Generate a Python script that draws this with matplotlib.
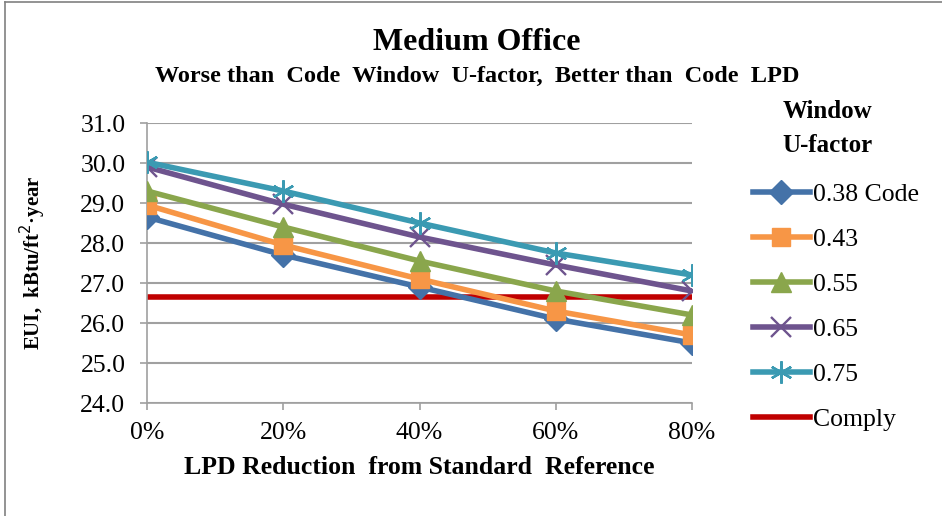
import matplotlib
matplotlib.use("Agg")
import matplotlib.pyplot as plt
from matplotlib.lines import Line2D

plt.rcParams['font.family'] = ['Liberation Serif', 'DejaVu Serif']

categories = ["0%", "20%", "40%", "60%", "80%"]
x_vals = [0, 20, 40, 60, 80]
series_names = ["0.38 Code", "0.43", "0.55", "0.65", "0.75"]
u038 = [28.65, 27.7, 26.9, 26.1, 25.5]
u043 = [28.95, 27.95, 27.1, 26.3, 25.7]
u055 = [29.3, 28.4, 27.55, 26.8, 26.2]
u065 = [29.9, 28.97, 28.15, 27.45, 26.8]
u075 = [30.02, 29.3, 28.5, 27.75, 27.2]
comply = [26.65, 26.65, 26.65, 26.65, 26.65]
y_ticks = [24.0, 25.0, 26.0, 27.0, 28.0, 29.0, 30.0, 31.0]

colors = ["#4472A8", "#F79646", "#8AA64C", "#6E548E", "#3B9AB2"]
markers = ["D", "s", "^", "x", (6, 2, 0)]
msizes = [12, 13, 14, 14, 16]

fig = plt.figure(figsize=(9.42, 5.16), dpi=100)
ax = fig.add_axes([147/942, 1-403/516, (692-147)/942, (403-123)/516])

all_series = [u038, u043, u055, u065, u075]
handles = []
for vals, name, c, m, ms in zip(all_series, series_names, colors, markers, msizes):
    if m in ("x",) or isinstance(m, tuple):
        ln, = ax.plot(x_vals, vals, color=c, lw=4, marker=m, ms=ms,
                      mew=1.7, mec=c, label=name, zorder=3)
    else:
        ln, = ax.plot(x_vals, vals, color=c, lw=4, marker=m, ms=ms,
                      mec=c, mfc=c, label=name, zorder=3)
    handles.append(ln)
cl, = ax.plot(x_vals, comply, color="#C00000", lw=4, label="Comply", zorder=2)
handles.append(cl)

ax.set_xlim(0, 80)
ax.set_ylim(24, 31)
ax.set_yticks(y_ticks)
ax.set_yticklabels([f"{v:.1f}" for v in y_ticks])
ax.set_xticks(x_vals)
ax.set_xticklabels(categories)
ax.grid(axis="y", color="#A0A0A0", lw=1.5)
ax.grid(axis="x", visible=False)
ax.set_axisbelow(True)
for s in ["top", "right"]:
    ax.spines[s].set_visible(False)
for s in ["left", "bottom"]:
    ax.spines[s].set_color("#A0A0A0")
    ax.spines[s].set_linewidth(1.2)
ax.tick_params(axis="both", colors="#A0A0A0", labelcolor="black", labelsize=18.5,
               length=5, width=1.2, direction="out")
ax.tick_params(axis="x", pad=9)
ax.tick_params(axis="y", pad=10.5)

ax.set_xlabel("LPD Reduction  from Standard  Reference", fontsize=18.5,
              fontweight="bold")
ax.xaxis.set_label_coords(0.5, -(456-403)/280)
ax.set_ylabel("EUI,  kBtu/ft$^2$·year", fontsize=15, fontweight="bold")
ax.yaxis.set_label_coords(-(147-48)/545, 0.5)

fig.text(477/942, 1-43/516, "Medium Office", ha="center", va="center",
         fontsize=23, fontweight="bold")
fig.text(477/942, 1-76/516, "Worse than  Code  Window  U-factor,  Better than  Code  LPD",
         ha="center", va="center", fontsize=17.5, fontweight="bold")

fig.text(827/942, 1-112/516, "Window", ha="center", va="center",
         fontsize=18, fontweight="bold")
fig.text(827/942, 1-145/516, "U-factor", ha="center", va="center",
         fontsize=18, fontweight="bold")

leg = fig.legend(handles=handles, loc="upper left",
                 bbox_to_anchor=(753/942, 1-183/516), frameon=False,
                 fontsize=18.5, handlelength=2.2,
                 handletextpad=0.15, labelspacing=0.86, borderaxespad=0,
                 borderpad=0)

# outer border (top and left visible)
fig.add_artist(Line2D([5/942, 5/942], [0, 1-2/516], transform=fig.transFigure,
                      color="#808080", lw=1.2))
fig.add_artist(Line2D([5/942, 1], [1-2/516, 1-2/516], transform=fig.transFigure,
                      color="#808080", lw=1.2))

fig.savefig("out.png", dpi=100)
